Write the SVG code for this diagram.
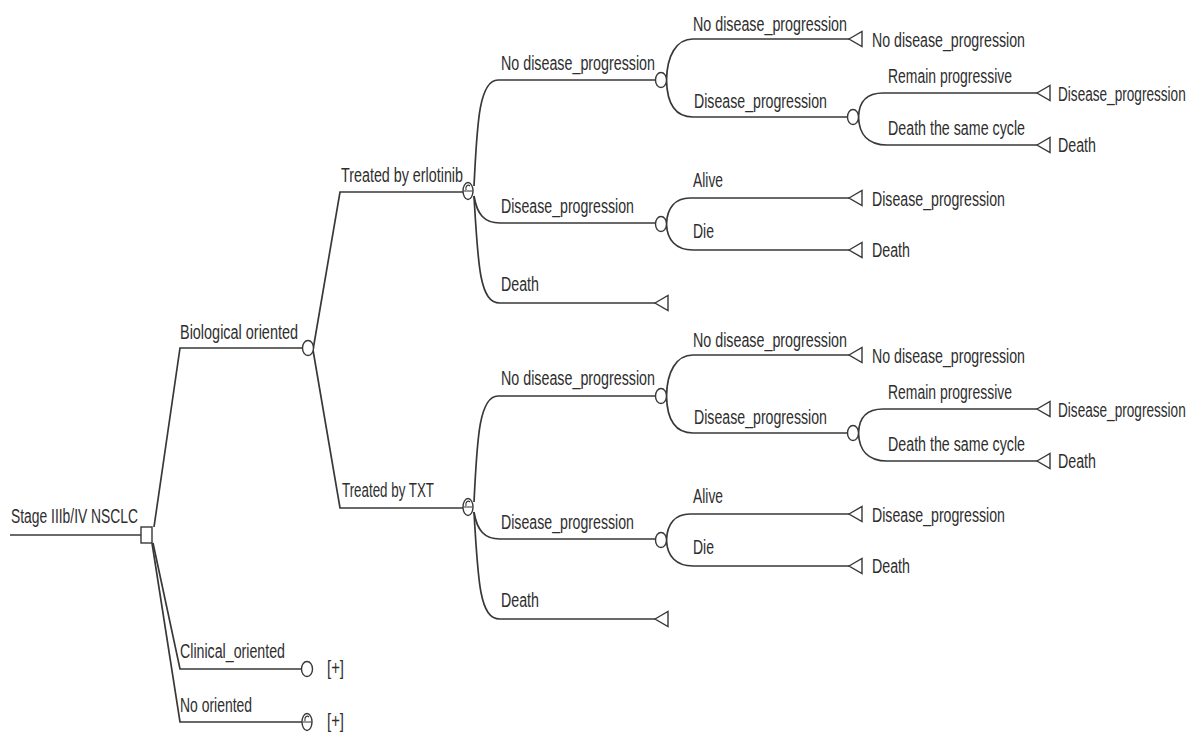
<svg xmlns="http://www.w3.org/2000/svg" width="1204" height="737" viewBox="0 0 1204 737">
<style>
.c{fill:none;stroke:#383838;stroke-width:1.7}
.n{fill:#fff;stroke:#383838;stroke-width:1.4}
.m{fill:none;stroke:#383838;stroke-width:1.2}
text{font-family:"Liberation Sans",Arial,sans-serif;font-size:20px;fill:#2e2e2e}
</style>
<defs>
<path id="tri" d="M0,0 L13,-7.5 L13,7.5 Z"/>
<ellipse id="chance" cx="0" cy="0" rx="5.5" ry="7.5"/>
<g id="markov"><ellipse cx="0" cy="0" rx="5" ry="8.5" class="n"/><path class="m" d="M-4.5,0 H4.5 M-2,-1 C-3,-5 0,-7 2,-5"/></g>
</defs>
<rect width="1204" height="737" fill="#fff"/>
<g id="connectors">
<path class="c" d="M10,535 H141"/>
<path class="c" d="M154,527 L180,348 H302.5"/>
<path class="c" d="M153,543 L180,669 H301.5"/>
<path class="c" d="M152,543 L180,722 H302"/>
<path class="c" d="M313,350 L340,192 H463"/>
<path class="c" d="M313,350 L340,508 H463"/>
<path class="c" d="M474,186 C477,130 478,80 498,80 H655.5"/>
<path class="c" d="M474,196 C477,214 484,223 500,223 H655.5"/>
<path class="c" d="M474,196 C478,268 480,303 500,303 H655"/>
<path class="c" d="M666.5,80 C667,56 676,39 693,39 H849"/>
<path class="c" d="M666.5,80 C667,104 676,117 693,117 H847.5"/>
<path class="c" d="M858.5,117 C859,101 867,93 883,93 H1037"/>
<path class="c" d="M858.5,117 C859,134 868,145 887,145 H1037"/>
<path class="c" d="M666.5,224 C667,208 675,198 690,198 H849"/>
<path class="c" d="M666.5,224 C667,240 676,250 693,250 H849"/>
<path class="c" d="M474,502 C477,446 478,396 498,396 H655.5"/>
<path class="c" d="M474,512 C477,530 484,539 500,539 H655.5"/>
<path class="c" d="M474,512 C478,584 480,619 500,619 H655"/>
<path class="c" d="M666.5,396 C667,372 676,355 693,355 H849"/>
<path class="c" d="M666.5,396 C667,420 676,433 693,433 H847.5"/>
<path class="c" d="M858.5,433 C859,417 867,409 883,409 H1037"/>
<path class="c" d="M858.5,433 C859,450 868,461 887,461 H1037"/>
<path class="c" d="M666.5,540 C667,524 675,514 690,514 H849"/>
<path class="c" d="M666.5,540 C667,556 676,566 693,566 H849"/>
</g>
<g id="root">
<text x="11" y="523" textLength="127" lengthAdjust="spacingAndGlyphs">Stage IIIb/IV NSCLC</text>
<rect class="n" x="141" y="527" width="11" height="16"/>
</g>
<g id="biological">
<text x="180" y="339" textLength="118" lengthAdjust="spacingAndGlyphs">Biological oriented</text>
<use href="#chance" x="308" y="348" class="n"/>
</g>
<g id="clinical">
<text x="180" y="658" textLength="105" lengthAdjust="spacingAndGlyphs">Clinical_oriented</text>
<use href="#chance" x="307" y="669" class="n"/>
<text x="327" y="675" textLength="17" lengthAdjust="spacingAndGlyphs">[+]</text>
</g>
<g id="nooriented">
<text x="180" y="712" textLength="72" lengthAdjust="spacingAndGlyphs">No oriented</text>
<use href="#markov" x="307" y="722"/>
<text x="327" y="728" textLength="17" lengthAdjust="spacingAndGlyphs">[+]</text>
</g>
<g id="erlotinib">
<text x="341" y="182" textLength="122" lengthAdjust="spacingAndGlyphs">Treated by erlotinib</text>
<use href="#markov" x="468" y="191"/>
</g>
<g id="e_ndp">
<text x="501" y="70" textLength="154" lengthAdjust="spacingAndGlyphs">No disease_progression</text>
<use href="#chance" x="661" y="80" class="n"/>
</g>
<g id="e_ndp_ndp">
<text x="693" y="31" textLength="154" lengthAdjust="spacingAndGlyphs">No disease_progression</text>
<use href="#tri" x="849" y="39" class="n"/>
<text x="872" y="47" textLength="153" lengthAdjust="spacingAndGlyphs">No disease_progression</text>
</g>
<g id="e_ndp_dp">
<text x="694" y="108" textLength="133" lengthAdjust="spacingAndGlyphs">Disease_progression</text>
<use href="#chance" x="853" y="117" class="n"/>
</g>
<g id="e_ndp_dp_remain">
<text x="888" y="83" textLength="124" lengthAdjust="spacingAndGlyphs">Remain progressive</text>
<use href="#tri" x="1037" y="93" class="n"/>
<text transform="translate(1058,101) scale(0.68,1)" x="0" y="0">Disease_progression</text>
</g>
<g id="e_ndp_dp_death">
<text x="888" y="135" textLength="137" lengthAdjust="spacingAndGlyphs">Death the same cycle</text>
<use href="#tri" x="1037" y="145" class="n"/>
<text x="1058" y="152" textLength="38" lengthAdjust="spacingAndGlyphs">Death</text>
</g>
<g id="e_dp">
<text x="501" y="213" textLength="133" lengthAdjust="spacingAndGlyphs">Disease_progression</text>
<use href="#chance" x="661" y="224" class="n"/>
</g>
<g id="e_dp_alive">
<text x="693" y="187" textLength="30" lengthAdjust="spacingAndGlyphs">Alive</text>
<use href="#tri" x="849" y="198" class="n"/>
<text x="872" y="206" textLength="133" lengthAdjust="spacingAndGlyphs">Disease_progression</text>
</g>
<g id="e_dp_die">
<text x="693" y="238" textLength="21" lengthAdjust="spacingAndGlyphs">Die</text>
<use href="#tri" x="849" y="250" class="n"/>
<text x="872" y="257" textLength="38" lengthAdjust="spacingAndGlyphs">Death</text>
</g>
<g id="e_death">
<text x="501" y="291" textLength="38" lengthAdjust="spacingAndGlyphs">Death</text>
<use href="#tri" x="655" y="303" class="n"/>
</g>
<g id="txt">
<text x="342" y="497" textLength="92" lengthAdjust="spacingAndGlyphs">Treated by TXT</text>
<use href="#markov" x="468" y="507"/>
</g>
<g id="t_ndp">
<text x="501" y="385" textLength="154" lengthAdjust="spacingAndGlyphs">No disease_progression</text>
<use href="#chance" x="661" y="396" class="n"/>
</g>
<g id="t_ndp_ndp">
<text x="693" y="347" textLength="154" lengthAdjust="spacingAndGlyphs">No disease_progression</text>
<use href="#tri" x="849" y="355" class="n"/>
<text x="872" y="363" textLength="153" lengthAdjust="spacingAndGlyphs">No disease_progression</text>
</g>
<g id="t_ndp_dp">
<text x="694" y="424" textLength="133" lengthAdjust="spacingAndGlyphs">Disease_progression</text>
<use href="#chance" x="853" y="433" class="n"/>
</g>
<g id="t_ndp_dp_remain">
<text x="888" y="399" textLength="124" lengthAdjust="spacingAndGlyphs">Remain progressive</text>
<use href="#tri" x="1037" y="409" class="n"/>
<text transform="translate(1058,417) scale(0.68,1)" x="0" y="0">Disease_progression</text>
</g>
<g id="t_ndp_dp_death">
<text x="888" y="451" textLength="137" lengthAdjust="spacingAndGlyphs">Death the same cycle</text>
<use href="#tri" x="1037" y="461" class="n"/>
<text x="1058" y="468" textLength="38" lengthAdjust="spacingAndGlyphs">Death</text>
</g>
<g id="t_dp">
<text x="501" y="529" textLength="133" lengthAdjust="spacingAndGlyphs">Disease_progression</text>
<use href="#chance" x="661" y="540" class="n"/>
</g>
<g id="t_dp_alive">
<text x="693" y="503" textLength="30" lengthAdjust="spacingAndGlyphs">Alive</text>
<use href="#tri" x="849" y="514" class="n"/>
<text x="872" y="522" textLength="133" lengthAdjust="spacingAndGlyphs">Disease_progression</text>
</g>
<g id="t_dp_die">
<text x="693" y="554" textLength="21" lengthAdjust="spacingAndGlyphs">Die</text>
<use href="#tri" x="849" y="566" class="n"/>
<text x="872" y="573" textLength="38" lengthAdjust="spacingAndGlyphs">Death</text>
</g>
<g id="t_death">
<text x="501" y="607" textLength="38" lengthAdjust="spacingAndGlyphs">Death</text>
<use href="#tri" x="655" y="619" class="n"/>
</g>
</svg>
